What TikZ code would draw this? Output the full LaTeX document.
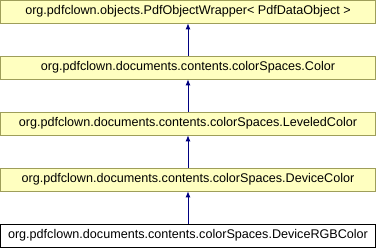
\documentclass[tikz,border=0pt]{standalone}
\usepackage{fontspec}
\setmainfont{Liberation Sans}
\usepackage{xcolor}
\usepackage{tikz}
\usetikzlibrary{arrows.meta}
\usetikzlibrary{positioning}

\definecolor{boxfill}{HTML}{FFFFC0}
\definecolor{boxline}{HTML}{9E9E5A}
\definecolor{inhline}{HTML}{000080}

\begin{document}
\begin{tikzpicture}[
      x=1pt, y=1pt,
      cls/.style={draw=boxline, fill=boxfill, line width=0.8pt, minimum width=375pt,
        minimum height=23pt, inner sep=0pt, font=\fontsize{12.6}{14}\selectfont},
      cur/.style={cls, draw=black, fill=white},
      inh/.style={draw=inhline, line width=0.8pt, -{Latex[length=6pt, width=5pt]}}
    ]
    \useasboundingbox (0,0) rectangle (376,-248);

    % Klassen, von oben nach unten
    \node[cls] (wrapper) at (188,-11.5) {org.pdfclown.objects.PdfObjectWrapper< PdfDataObject >};
    \node[cls] (color)   at (188,-67.5) {org.pdfclown.documents.contents.colorSpaces.Color};
    \node[cls] (leveled) at (188,-123.5) {org.pdfclown.documents.contents.colorSpaces.LeveledColor};
    \node[cls] (device)  at (188,-179.5) {org.pdfclown.documents.contents.colorSpaces.DeviceColor};
    \node[cur] (rgb)     at (188,-235.5) {org.pdfclown.documents.contents.colorSpaces.DeviceRGBColor};

    % Vererbung
    \draw[inh] (color) -- (wrapper);
    \draw[inh] (leveled) -- (color);
    \draw[inh] (device) -- (leveled);
    \draw[inh] (rgb) -- (device);
  \end{tikzpicture}
\end{document}
